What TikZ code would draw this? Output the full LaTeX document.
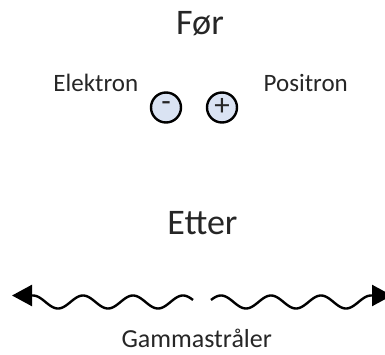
\documentclass[tikz,border=0pt]{standalone}
\usepackage{fontspec}
\setmainfont{Carlito}
\usetikzlibrary{arrows.meta}
\definecolor{particlefill}{HTML}{DAE3F3}
\definecolor{inktext}{HTML}{262626}
\newcommand{\fsz}[1]{\fontsize{#1}{#1}\selectfont}
\begin{document}
\begin{tikzpicture}[x=1pt,y=-1pt,
  title/.style={anchor=base,inner sep=0,text=inktext,font=\fsz{36}},
  label/.style={anchor=base,inner sep=0,text=inktext,font=\fsz{25}},
  particle/.style={circle,draw=black,line width=2.4pt,fill=particlefill,
    minimum size=30pt,inner sep=0,font=\fsz{31},text=inktext},
  photon/.style={line width=2.4pt,{Triangle[length=20pt,width=21pt]}-}]
\clip (0,0) rectangle (385,355);
\useasboundingbox (0,0) rectangle (385,355);

% before the annihilation
\node[title] (before) at (200,34.3) {Før};
\node[label] (electronlabel) at (95.8,91.7) {Elektron};
\node[label] (positronlabel) at (305.8,91.7) {Positron};
\node[particle] (electron) at (166,107.5) {\raisebox{1.5pt}{-}};
\node[particle] (positron) at (222,107.5) {\raisebox{1.5pt}{+}};

% after the annihilation
\node[title] (after) at (202.5,235) {Etter};
\node[label,font=\fsz{26}] (gammalabel) at (196.7,347) {Gammastråler};

% two photons leaving in opposite directions (wavelength 50)
\coordinate (leftTip) at (12,295.5);
\coordinate (leftStart) at (33,295.5);
\coordinate (rightTip) at (392,295.5);
\coordinate (rightStart) at (371,295.5);
\draw[photon] (leftTip) -- (leftStart)
  -- plot[domain=33:193,samples=120,smooth] (\x,{302-6.5*cos(7.2*(\x-33))});
\draw[photon] (rightTip) -- (rightStart)
  -- plot[domain=371:211,samples=120,smooth] (\x,{302-6.5*cos(7.2*(371-\x))});
\end{tikzpicture}
\end{document}
